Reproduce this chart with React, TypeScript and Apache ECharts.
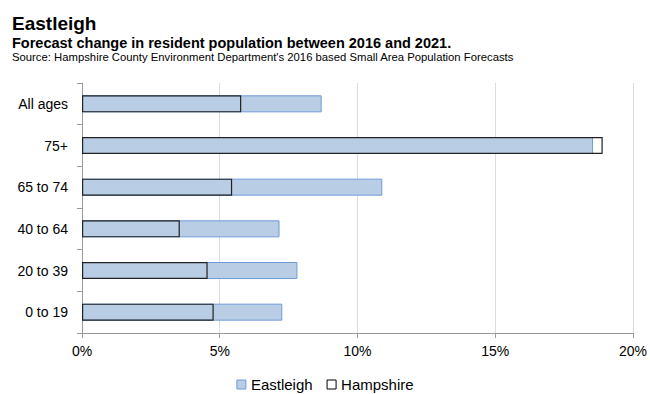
import React, { useEffect, useRef } from "react";
import * as echarts from "echarts";

const categories = ["0 to 19", "20 to 39", "40 to 64", "65 to 74", "75+", "All ages"];
const eastleigh = [7.27, 7.82, 7.17, 10.9, 18.55, 8.7];
const hampshire = [4.78, 4.56, 3.55, 5.45, 18.9, 5.78];
const xTicks = [0, 5, 10, 15, 20];

const FONT = "'Liberation Sans', Arial, sans-serif";

export default function App() {
  const ref = useRef<HTMLDivElement>(null);
  useEffect(() => {
    if (!ref.current) return;
    const chart = echarts.init(ref.current, undefined, { renderer: "svg" });
    chart.setOption({
      animation: false,
      textStyle: { fontFamily: FONT },
      graphic: [
        { type: "text", left: 12, top: 14, style: { text: "Eastleigh", font: `bold 19px ${FONT}`, fill: "#000" } },
        { type: "text", left: 12, top: 35, style: { text: "Forecast change in resident population between 2016 and 2021.", font: `bold 14.5px ${FONT}`, fill: "#000" } },
        { type: "text", left: 12, top: 51, style: { text: "Source: Hampshire County Environment Department's 2016 based Small Area Population Forecasts", font: `11.3px ${FONT}`, fill: "#000" } },
      ],
      grid: { left: 82, right: 14, top: 83, bottom: 61, containLabel: false },
      legend: {
        top: 377,
        left: "center",
        padding: 0,
        itemWidth: 9,
        itemHeight: 9,
        itemGap: 14,
        textStyle: { fontFamily: FONT, fontSize: 15, color: "#000" },
        data: [
          { name: "Eastleigh", icon: "rect", itemStyle: { color: "#b9cde5", borderColor: "#6f9bd8", borderWidth: 1 } },
          { name: "Hampshire", icon: "rect", itemStyle: { color: "#ffffff", borderColor: "#000", borderWidth: 1 } },
        ],
      },
      xAxis: {
        type: "value",
        min: 0,
        max: 20,
        interval: 5,
        axisLine: { show: true, lineStyle: { color: "#999" } },
        axisTick: { show: true, length: 5, lineStyle: { color: "#999" } },
        splitLine: { show: true, lineStyle: { color: "#dcdcdc" } },
        axisLabel: {
          formatter: (v: number) => (xTicks.includes(v) ? `${v}%` : ""),
          fontSize: 14,
          color: "#000",
          margin: 11,
          fontFamily: FONT,
        },
      },
      yAxis: {
        type: "category",
        data: categories,
        axisLine: { show: true, lineStyle: { color: "#999" } },
        axisTick: { show: true, length: 5, lineStyle: { color: "#999" } },
        axisLabel: { fontSize: 14, color: "#000", margin: 14, fontFamily: FONT },
      },
      series: [
        {
          name: "Eastleigh",
          type: "bar",
          data: eastleigh,
          barWidth: 17,
          itemStyle: { color: "#b9cde5", borderColor: "#6f9bd8", borderWidth: 1 },
        },
        {
          name: "Hampshire",
          type: "bar",
          data: hampshire,
          barWidth: 17,
          barGap: "-100%",
          itemStyle: { color: "rgba(0,0,0,0)", borderColor: "#222", borderWidth: 1.2 },
        },
      ],
    });
    return () => chart.dispose();
  }, []);
  return <div ref={ref} style={{ width: 650, height: 394, position: "absolute", left: 0, top: 0 }} />;
}
